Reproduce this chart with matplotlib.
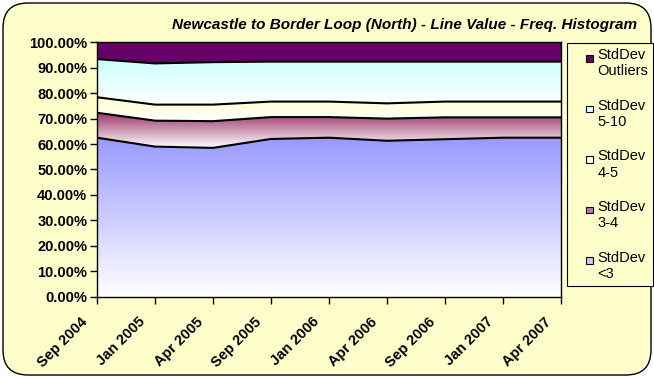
import numpy as np
import matplotlib
matplotlib.use('Agg')
import matplotlib.pyplot as plt
from matplotlib.colors import LinearSegmentedColormap
from matplotlib.patches import FancyBboxPatch, Patch, Polygon, Rectangle
from matplotlib.legend_handler import HandlerPatch
from matplotlib.ticker import FuncFormatter, MultipleLocator
from matplotlib.transforms import ScaledTranslation

plt.rcParams['font.family'] = ['Liberation Sans', 'DejaVu Sans']

months = ['Sep 2004', 'Jan 2005', 'Apr 2005', 'Sep 2005', 'Jan 2006',
          'Apr 2006', 'Sep 2006', 'Jan 2007', 'Apr 2007']

# percentage of line value in each std-dev band
sd_lt3 = [62.5, 59.0, 58.5, 62.0, 62.5, 61.3, 61.9, 62.5, 62.5]
sd_3_4 = [9.8, 10.2, 10.5, 8.6, 8.1, 8.7, 8.6, 8.0, 8.0]
sd_4_5 = [6.1, 6.3, 6.5, 6.1, 6.1, 6.0, 6.2, 6.2, 6.2]
sd_5_10 = [15.0, 16.2, 16.7, 15.7, 15.7, 16.4, 15.7, 15.7, 15.7]
sd_out = [6.6, 8.3, 7.8, 7.6, 7.6, 7.6, 7.6, 7.6, 7.6]

series = [sd_lt3, sd_3_4, sd_4_5, sd_5_10, sd_out]
labels = ['StdDev\n<3', 'StdDev\n3-4', 'StdDev\n4-5', 'StdDev\n5-10', 'StdDev\nOutliers']
top_colors = ['#9999FF', '#993366', '#FFFFCC', '#CCFFFF', '#660066']
swatch_colors = ['#C8C8FF', '#B87A98', '#FFFFE0', '#E0FFFF', '#660066']
gradient = [True, True, True, True, False]

title = 'Newcastle to Border Loop (North) - Line Value - Freq. Histogram'

fig = plt.figure(figsize=(6.54, 3.78), dpi=100, facecolor='white')
bg = FancyBboxPatch((0.03, 0.03), 6.48, 3.72,
                    boxstyle='round,pad=0,rounding_size=0.25',
                    transform=fig.dpi_scale_trans, facecolor='#FFFFCC',
                    edgecolor='black', lw=1.0, zorder=-10)
fig.patches.append(bg)

ax = fig.add_axes([97 / 654, 1 - 296.7 / 378, 464 / 654, 254.4 / 378])
ax.set_facecolor('none')

x = np.arange(len(months))
grad = np.linspace(0, 1, 256).reshape(-1, 1)
lower = np.zeros(len(months))
bounds = []
for vals, col, g in zip(series, top_colors, gradient):
    upper = lower + np.array(vals)
    verts = np.column_stack([np.r_[x, x[::-1]], np.r_[upper, lower[::-1]]])
    poly = Polygon(verts, closed=True, facecolor='none' if g else col,
                   edgecolor='none', zorder=1)
    ax.add_patch(poly)
    if g:
        cmap = LinearSegmentedColormap.from_list('g', ['white', col])
        im = ax.imshow(grad, cmap=cmap, origin='lower', aspect='auto',
                       extent=[x[0], x[-1], lower.min(), upper.max()],
                       interpolation='bilinear', zorder=1)
        im.set_clip_path(poly)
    bounds.append(upper.copy())
    lower = upper

for b in bounds[:-1]:
    ax.plot(x, b, color='black', lw=1.5, zorder=3)

ax.set_xlim(x[0], x[-1])
ax.set_ylim(0, 100)
ax.yaxis.set_major_locator(MultipleLocator(10))
ax.yaxis.set_major_formatter(FuncFormatter(lambda v, p: f'{v:.2f}%'))
ax.set_xticks(x)
ax.set_xticklabels(months, rotation=45, ha='right', va='top')
ax.tick_params(axis='both', direction='out', length=5, width=1, color='black',
               labelsize=10.5)
ax.tick_params(axis='y', pad=2)
ax.tick_params(axis='x', pad=8)
shift = ScaledTranslation(-7 / 100, 0, fig.dpi_scale_trans)
for lab in ax.get_xticklabels():
    lab.set_fontweight('bold')
    lab.set_transform(lab.get_transform() + shift)
for lab in ax.get_yticklabels():
    lab.set_fontweight('bold')
for s in ax.spines.values():
    s.set_color('black')
    s.set_linewidth(1.0)

fig.text(404 / 654, 1 - 24.5 / 378, title, ha='center', va='center',
         fontsize=11, fontweight='bold', fontstyle='italic')


class TopSquare(HandlerPatch):
    def create_artists(self, legend, orig_handle, xdescent, ydescent,
                       width, height, fontsize, trans):
        s = fontsize * 0.45
        p = Rectangle((-xdescent + width - s, -ydescent + height - s * 1.2), s, s,
                      facecolor=orig_handle.get_facecolor(),
                      edgecolor='black', lw=0.8, transform=trans)
        return [p]


handles = [Patch(facecolor=c) for c in swatch_colors]
leg = fig.legend(handles[::-1], labels[::-1], loc='upper left',
                 bbox_to_anchor=(567 / 654, 1 - 43 / 378),
                 fontsize=10.5, frameon=True, fancybox=False,
                 edgecolor='black', facecolor='#FFFFCC', framealpha=1,
                 handlelength=1.4, handleheight=1.8, handletextpad=0.34,
                 labelspacing=1.4, borderpad=0.35, borderaxespad=0,
                 handler_map={Patch: TopSquare()})
leg.get_frame().set_linewidth(0.8)

fig.savefig('out.png', dpi=100, facecolor=fig.get_facecolor())
